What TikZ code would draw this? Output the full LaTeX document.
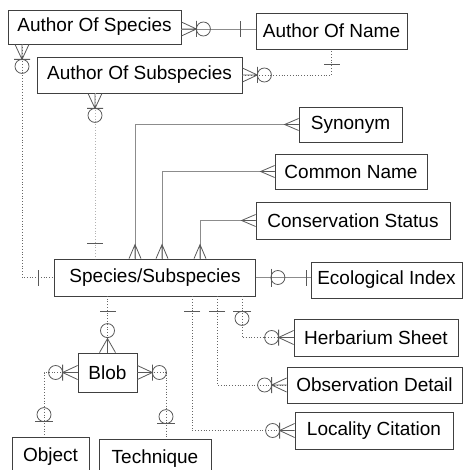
\documentclass[tikz,border=0pt]{standalone}
\usepackage{fontspec}
\setmainfont{Liberation Sans}
\tikzset{
  ent/.style={draw=black!75, line width=0.8pt, fill=white, inner sep=0pt, font=\fontsize{19}{22}\selectfont, text=black},
  rel/.style={draw=black!45, line width=0.7pt},
  reldot/.style={draw=black!60, line width=0.8pt, dotted},
  rellight/.style={draw=black!30, line width=0.8pt, dotted},
  sym/.style={draw=black!65, line width=0.8pt},
  manyopt/.pic={\draw[sym] (0,-7)--(15,0)--(0,7) (0,0)--(15,0) (15,-8)--(15,8);
                \draw[sym] (22,0) circle[radius=7pt];},
  crowonly/.pic={\draw[sym] (0,-6)--(14,0)--(0,6) (0,0)--(14,0);},
  crowcircle/.pic={\draw[sym] (0,-8)--(14,0)--(0,8) (0,0)--(14,0);
                   \draw[sym] (22,0) circle[radius=7pt];},
  onebar/.pic={\draw[sym] (#1,-8)--(#1,8);},
  oneopt/.pic={\draw[sym] (15,-9)--(15,9);
               \draw[sym] (22,0) circle[radius=7pt];}
}
\begin{document}
\begin{tikzpicture}[x=1pt,y=-1pt]
\useasboundingbox (0,0) rectangle (463,470);
% entities
\node[ent, minimum width=173pt, minimum height=34pt] (aos)   at (94.5,27)   {Author Of Species};
\node[ent, minimum width=151pt, minimum height=36pt] (aon)   at (331.5,31)  {Author Of Name};
\node[ent, minimum width=205pt, minimum height=36pt] (aosub) at (139.5,75)  {Author Of Subspecies};
\node[ent, minimum width=103pt, minimum height=35pt] (syn)   at (350.5,124.5) {Synonym};
\node[ent, minimum width=152pt, minimum height=35pt] (cn)    at (351,171.5) {Common Name};
\node[ent, minimum width=194pt, minimum height=37pt] (cs)    at (353,220.5) {Conservation Status};
\node[ent, minimum width=201pt, minimum height=37pt] (sp)    at (155,277.5) {Species/Subspecies};
\node[ent, minimum width=151pt, minimum height=36pt] (eco)   at (386.5,280) {Ecological Index};
\node[ent, minimum width=164pt, minimum height=37pt] (herb)  at (376,337.5) {Herbarium Sheet};
\node[ent, minimum width=175pt, minimum height=36pt] (obs)   at (374.5,385) {Observation Detail};
\node[ent, minimum width=158pt, minimum height=37pt] (loc)   at (374,430.5) {Locality Citation};
\node[ent, minimum width=59pt,  minimum height=39pt] (blob)  at (107.5,372.5) {Blob};
\node[ent, minimum width=77pt,  minimum height=40pt] (obj)   at (50.5,457)  {Object};
\node[ent, minimum width=112pt, minimum height=40pt] (tech)  at (155,459)   {Technique};
% helper coordinates
\coordinate (h29) at (0,29);
\coordinate (v22) at (22,0);
\coordinate (v95) at (95,0);
\coordinate (v135) at (135,0);
\coordinate (v162) at (162,0);
\coordinate (v200) at (200,0);
\coordinate (v192) at (192,0);
\coordinate (v217) at (217,0);
\coordinate (v242) at (242,0);
\coordinate (v44) at (44,0);
\coordinate (v166) at (166,0);
% Author Of Species -- Author Of Name
\draw[rel] (aos.east |- h29) -- (aon.west |- h29);
\pic at (aos.east |- h29) {manyopt};
\pic[rotate=180] at (aon.west |- h29) {onebar=15};
% Author Of Subspecies -- Author Of Name
\draw[reldot] (aosub.east) -| (aon.south);
\pic at (aosub.east) {manyopt};
\pic[rotate=-90] at (aon.south) {onebar=15};
% Author Of Species -- Species
\draw[reldot] (aos.south -| v22) |- (sp.west);
\pic[rotate=-90] at (aos.south -| v22) {manyopt};
\pic[rotate=180] at (sp.west) {onebar=16};
% Author Of Subspecies -- Species
\draw[rellight] (aosub.south -| v95) -- (sp.north -| v95);
\pic[rotate=-90] at (aosub.south -| v95) {manyopt};
\pic[rotate=90] at (sp.north -| v95) {onebar=15};
% Synonym, Common Name, Conservation Status
\draw[rel] (syn.west) -| (sp.north -| v135);
\pic[rotate=180] at (syn.west) {crowonly};
\pic[rotate=90] at (sp.north -| v135) {crowonly};
\draw[rel] (cn.west) -| (sp.north -| v162);
\pic[rotate=180] at (cn.west) {crowonly};
\pic[rotate=90] at (sp.north -| v162) {crowonly};
\draw[rel] (cs.west) -| (sp.north -| v200);
\pic[rotate=180] at (cs.west) {crowonly};
\pic[rotate=90] at (sp.north -| v200) {crowonly};
% Ecological Index
\draw[rel] (sp.east) -- (sp.east -| eco.west);
\pic at (sp.east) {oneopt};
\pic[rotate=180] at (sp.east -| eco.west) {onebar=4};
% Herbarium Sheet
\draw[reldot] (sp.south -| v242) |- (herb.west);
\pic[rotate=-90] at (sp.south -| v242) {oneopt};
\pic[rotate=180] at (herb.west) {manyopt};
% Observation Detail
\draw[reldot] (sp.south -| v217) |- (obs.west);
\pic[rotate=-90] at (sp.south -| v217) {onebar=15};
\pic[rotate=180] at (obs.west) {manyopt};
% Locality Citation
\draw[reldot] (sp.south -| v192) |- (loc.west);
\pic[rotate=-90] at (sp.south -| v192) {onebar=15};
\pic[rotate=180] at (loc.west) {manyopt};
% Blob -- Species
\draw[reldot] (blob.north) -- (blob.north |- sp.south);
\pic[rotate=90] at (blob.north) {crowcircle};
\pic[rotate=-90] at (blob.north |- sp.south) {onebar=15};
% Blob -- Object
\draw[reldot] (blob.west) -| (obj.north -| v44);
\pic[rotate=180] at (blob.west) {manyopt};
\pic[rotate=90] at (obj.north -| v44) {oneopt};
% Blob -- Technique
\draw[reldot] (blob.east) -| (tech.north -| v166);
\pic at (blob.east) {manyopt};
\pic[rotate=90] at (tech.north -| v166) {oneopt};
\end{tikzpicture}
\end{document}
